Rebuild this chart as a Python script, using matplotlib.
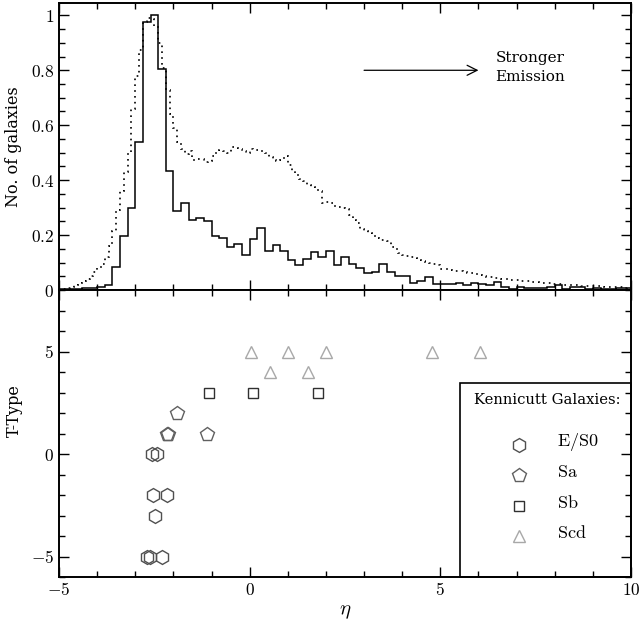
import matplotlib
matplotlib.use("Agg")
import matplotlib.pyplot as plt
import matplotlib.patches as patches
from matplotlib.ticker import MultipleLocator, FuncFormatter
import numpy as np

plt.rcParams['mathtext.fontset'] = 'cm'
plt.rcParams['font.family'] = 'DejaVu Serif'

# --- histogram data (normalised to peak = 1) ---
ETA_MIN = -5.0
SOLID_BIN = 0.2
DOT_BIN = 0.1

# Kennicutt-like sample, 0.2 wide bins from eta = -5
solid_counts = [
    0.004, 0.004, 0.004, 0.006, 0.007, 0.010, 0.017, 0.085, 0.195, 0.300,
    0.540, 0.975, 1.000, 0.805, 0.434, 0.287, 0.318, 0.255, 0.262, 0.250,
    0.196, 0.191, 0.155, 0.166, 0.128, 0.185, 0.227, 0.142, 0.163, 0.143,
    0.109, 0.092, 0.112, 0.138, 0.120, 0.143, 0.091, 0.119, 0.094, 0.081,
    0.061, 0.065, 0.096, 0.067, 0.052, 0.050, 0.025, 0.031, 0.046, 0.023,
    0.021, 0.023, 0.025, 0.020, 0.027, 0.022, 0.017, 0.028, 0.011, 0.004,
    0.010, 0.007, 0.009, 0.009, 0.010, 0.017, 0.005, 0.010, 0.010, 0.005,
    0.007, 0.005, 0.004, 0.006, 0.008,
]

# full sample, 0.1 wide bins from eta = -5
dotted_counts = [
    0.003, 0.005, 0.009, 0.012, 0.018, 0.026, 0.032, 0.040, 0.050, 0.065,
    0.080, 0.095, 0.120, 0.160, 0.215, 0.290, 0.360, 0.430, 0.500, 0.660,
    0.780, 0.875, 0.975, 0.990, 0.985, 0.960, 0.900, 0.810, 0.730, 0.640,
    0.590, 0.540, 0.515, 0.495, 0.505, 0.475, 0.478, 0.476, 0.466, 0.470,
    0.488, 0.500, 0.510, 0.505, 0.498, 0.522, 0.518, 0.512, 0.505, 0.500,
    0.514, 0.510, 0.508, 0.506, 0.500, 0.485, 0.475, 0.468, 0.472, 0.487,
    0.456, 0.435, 0.418, 0.405, 0.398, 0.384, 0.376, 0.370, 0.360, 0.318,
    0.320, 0.318, 0.305, 0.302, 0.298, 0.294, 0.274, 0.256, 0.244, 0.222,
    0.215, 0.208, 0.195, 0.190, 0.182, 0.181, 0.178, 0.158, 0.148, 0.135,
    0.128, 0.124, 0.120, 0.116, 0.110, 0.106, 0.103, 0.100, 0.096, 0.091,
    0.076, 0.075, 0.074, 0.071, 0.069, 0.068, 0.066, 0.063, 0.061, 0.058,
    0.055, 0.052, 0.049, 0.047, 0.045, 0.042, 0.040, 0.039, 0.038, 0.037,
    0.036, 0.034, 0.032, 0.031, 0.029, 0.028, 0.027, 0.026, 0.024, 0.023,
    0.022, 0.021, 0.020, 0.019, 0.018, 0.017, 0.017, 0.016, 0.016, 0.015,
    0.015, 0.014, 0.013, 0.012, 0.011, 0.010, 0.010, 0.010, 0.009, 0.010,
]

# --- Kennicutt galaxies: eta vs T-type ---
es0_eta = [-2.55, -2.43, -2.54, -2.17, -2.48, -2.69, -2.61, -2.30]
es0_t = [0, 0, -2, -2, -3, -5, -5, -5]
sa_eta = [-1.90, -2.17, -2.13, -1.13]
sa_t = [2, 1, 1, 1]
sb_eta = [-1.07, 0.08, 1.80]
sb_t = [3, 3, 3]
scd_eta = [0.03, 1.01, 1.99, 4.77, 6.04, 0.53, 1.53]
scd_t = [5, 5, 5, 5, 5, 4, 4]

# marker styles for the four classes
classes = [
    ("E/S0", es0_eta, es0_t, "h", 10, "#505050"),
    ("Sa", sa_eta, sa_t, "p", 10, "#606060"),
    ("Sb", sb_eta, sb_t, "s", 6.5, "#303030"),
    ("Scd", scd_eta, scd_t, "^", 8, "#a8a8a8"),
]


def math_fmt(v, pos):
    if abs(v - round(v)) < 1e-9:
        s = "%d" % round(v)
    else:
        s = "%.1f" % v
    return r"$%s$" % s


def style_axis(ax):
    ax.tick_params(which='both', direction='in', top=True, right=True,
                   width=1.0, labelsize=12.5)
    ax.tick_params(which='major', length=7)
    ax.tick_params(which='minor', length=4)
    for sp in ax.spines.values():
        sp.set_linewidth(1.4)


fig = plt.figure(figsize=(6.42, 6.23), dpi=100)
L, W = 0.0919, 0.891
ax1 = fig.add_axes([L, 0.5345, W, 0.4607])
ax2 = fig.add_axes([L, 0.0738, W, 0.4607])

# --- top panel: histograms ---
solid_edges = ETA_MIN + SOLID_BIN * np.arange(len(solid_counts) + 1)
dot_edges = ETA_MIN + DOT_BIN * np.arange(len(dotted_counts) + 1)
ax1.stairs(dotted_counts, dot_edges, color='black', lw=1.2, linestyle=(0, (1, 2.5)))
ax1.stairs(solid_counts, solid_edges, color='black', lw=1.1)

ax1.set_xlim(-5, 10)
ax1.set_ylim(0, 1.045)
ax1.xaxis.set_major_locator(MultipleLocator(5))
ax1.xaxis.set_minor_locator(MultipleLocator(1))
ax1.yaxis.set_major_locator(MultipleLocator(0.2))
ax1.yaxis.set_minor_locator(MultipleLocator(0.05))
ax1.yaxis.set_major_formatter(FuncFormatter(math_fmt))
ax1.set_xticklabels([])
style_axis(ax1)
ax1.set_ylabel("No. of galaxies", fontsize=11.5)
ax1.yaxis.set_label_coords(-0.064, 0.5)

ax1.annotate("", xy=(6.0, 0.80), xytext=(3.0, 0.80),
             arrowprops=dict(arrowstyle='->', lw=0.9, color='black',
                             mutation_scale=18, shrinkA=0, shrinkB=0))
ax1.text(6.45, 0.81, "Stronger\nEmission", fontsize=11, va='center',
         ha='left', linespacing=1.5)

# --- bottom panel: T-type vs eta ---
for name, xs, ys, mk, ms, col in classes:
    ax2.plot(xs, ys, linestyle='none', marker=mk, markersize=ms,
             markerfacecolor='none', markeredgecolor=col, markeredgewidth=1.0)

ax2.set_xlim(-5, 10)
ax2.set_ylim(-6, 8)
ax2.xaxis.set_major_locator(MultipleLocator(5))
ax2.xaxis.set_minor_locator(MultipleLocator(1))
ax2.yaxis.set_major_locator(MultipleLocator(5))
ax2.yaxis.set_minor_locator(MultipleLocator(1))
ax2.xaxis.set_major_formatter(FuncFormatter(math_fmt))
ax2.yaxis.set_major_formatter(FuncFormatter(math_fmt))
style_axis(ax2)
ax2.set_ylabel("T-Type", fontsize=11.5)
ax2.yaxis.set_label_coords(-0.064, 0.58)
ax2.set_xlabel(r"$\eta$", fontsize=15, labelpad=2)

# hand-made legend box
box = patches.Rectangle((0.701, 0.0), 0.299, 0.677, transform=ax2.transAxes,
                        fill=False, edgecolor='black', lw=1.2, clip_on=False)
ax2.add_patch(box)
ax2.text(0.7255, 0.617, "Kennicutt Galaxies:", transform=ax2.transAxes,
         fontsize=10.6, va='center', ha='left')
rows_y = [0.471, 0.367, 0.257, 0.152]
for (name, xs, ys, mk, ms, col), ry in zip(classes, rows_y):
    ax2.plot([0.804], [ry - 0.01], transform=ax2.transAxes, linestyle='none',
             marker=mk, markersize=ms, markerfacecolor='none',
             markeredgecolor=col, markeredgewidth=1.0, clip_on=False)
    ax2.text(0.871, ry, r"$\mathrm{%s}$" % name, transform=ax2.transAxes,
             fontsize=13, va='center', ha='left')

fig.savefig("out.png", dpi=100)
